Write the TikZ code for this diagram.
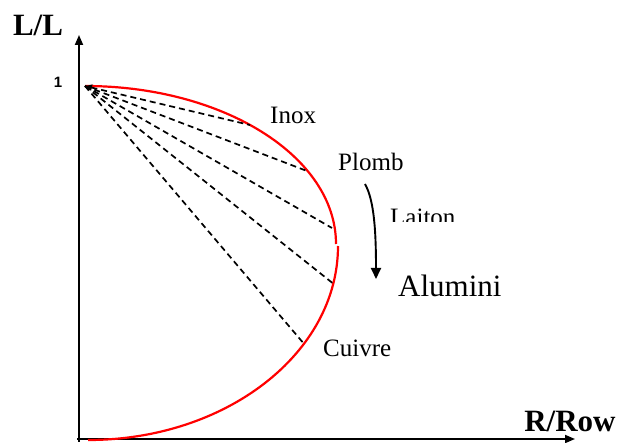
\documentclass[tikz,border=0pt]{standalone}
\usepackage{fontspec}
\setmainfont{Liberation Serif}
\newfontfamily\labsans{Liberation Sans}
\usetikzlibrary{arrows.meta}
\begin{document}
\begin{tikzpicture}[x=1pt,y=-1pt,
  axisline/.style={line width=1.8pt,-{Triangle[length=10pt,width=8pt]}},
  curveline/.style={red,line width=2.2pt},
  rayline/.style={black,line width=1.7pt,dash pattern=on 6pt off 4pt},
  matlabel/.style={inner sep=0pt,anchor=base west,font=\fontsize{25}{30}\selectfont},
  axlabel/.style={inner sep=0pt,font=\fontsize{31}{36}\selectfont\bfseries}]
\useasboundingbox (0,0) rectangle (619,443);
% axes
\coordinate (o1) at (79,442);
\coordinate (ytop) at (79,35);
\coordinate (o2) at (77,439);
\coordinate (xend) at (575,439);
\draw[axisline] (o1) -- (ytop);
\draw[axisline] (o2) -- (xend);
% red curve
\coordinate (apex) at (85,86);
\draw[curveline] (apex) arc[start angle=-90,end angle=0,x radius=251,y radius=158];
\draw[curveline] (338,246) arc[start angle=0,end angle=90,x radius=250,y radius=194];
% rays
\coordinate (p1) at (250,125);
\coordinate (p2) at (307,171);
\coordinate (p3) at (332,228);
\coordinate (p4) at (335,285);
\coordinate (p5) at (305,345);
\draw[rayline] (apex) -- (p2);
\draw[rayline] (apex) -- (p3);
\draw[rayline] (apex) -- (p4);
\draw[rayline] (apex) -- (p5);
\draw[rayline,{Triangle[length=7pt,width=6pt]}-] (apex) -- (p1);
% curved arrow
\coordinate (a1) at (365,184);
\coordinate (a2) at (376,279);
\draw[line width=1.9pt,-{Triangle[length=11pt,width=10pt]}] (a1) .. controls (374,200) and (376,230) .. (a2);
% labels
\node[axlabel] (ll) at (38,25) {L/L};
\node[axlabel] (rr) at (570,421) {R/Row};
\node[inner sep=0pt,font=\fontsize{15}{17}\selectfont\labsans\bfseries] (one) at (58,82) {1};
\node[matlabel] (inox) at (270,124) {Inox};
\node[matlabel] (plomb) at (338,171) {Plomb};
\node[matlabel] (cuivre) at (323,357) {Cuivre};
\node[matlabel,font=\fontsize{31}{36}\selectfont] (alu) at (398,297) {Alumini};
\begin{scope}
\clip (380,195) rectangle (470,222);
\node[matlabel] (laiton) at (390,226) {Laiton};
\end{scope}
\end{tikzpicture}
\end{document}
